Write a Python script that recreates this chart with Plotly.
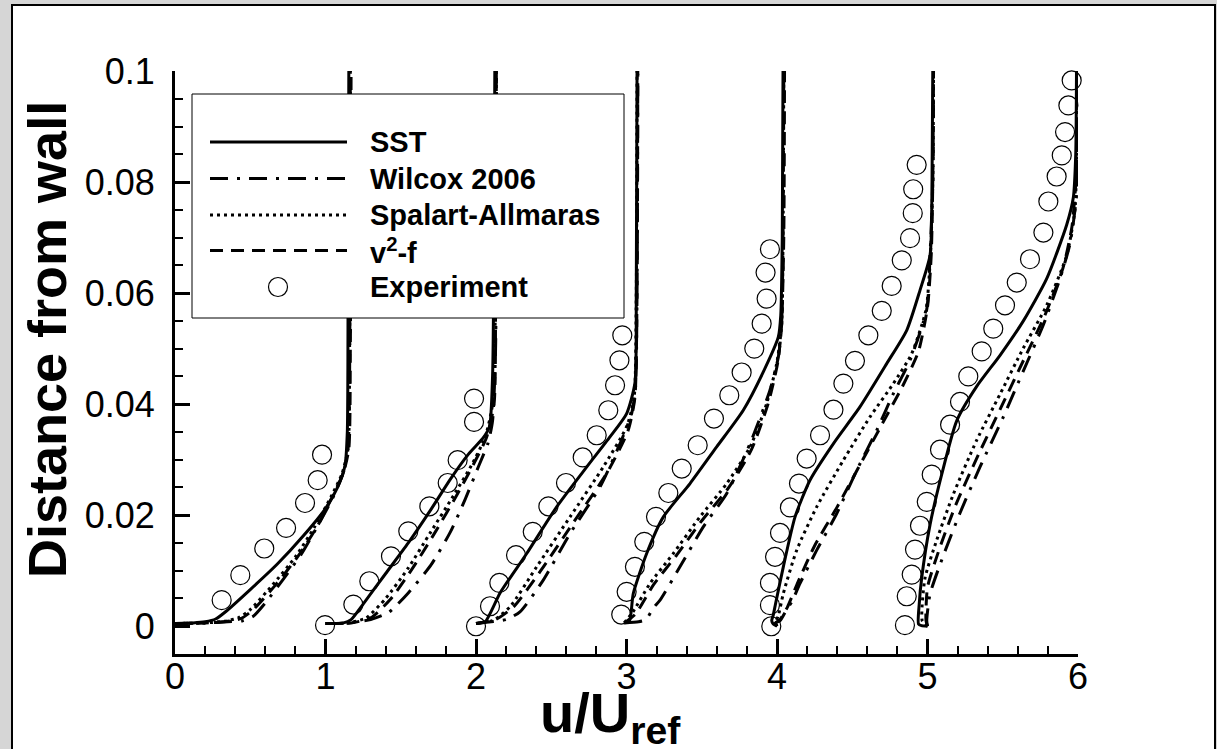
import plotly.graph_objects as go

# ---------------- data (values as read on the u/U_ref axis) ----------------
# six measurement stations, each list entry is one station
sst_x = [
    [0.00, 0.12, 0.20, 0.27, 0.34, 0.50, 0.68, 0.85, 1.00, 1.08, 1.13, 1.145, 1.15, 1.155],
    [1.00, 1.12, 1.17, 1.25, 1.40, 1.55, 1.70, 1.83, 1.95, 2.05, 2.09, 2.11, 2.12, 2.125],
    [2.00, 2.06, 2.16, 2.337, 2.536, 2.736, 2.890, 3.001, 3.056, 3.065, 3.07],
    [2.985, 3.02, 3.045, 3.134, 3.245, 3.422, 3.599, 3.776, 3.909, 4.009, 4.025, 4.035, 4.04],
    [4.00, 3.975, 3.965, 3.975, 3.99, 4.042, 4.120, 4.219, 4.375, 4.551, 4.729, 4.862, 4.950, 5.017, 5.03, 5.035],
    [5.00, 4.96, 4.94, 4.945, 4.961, 5.017, 5.094, 5.194, 5.327, 5.482, 5.637, 5.792, 5.925, 5.969, 5.985, 5.99],
]
sst_y = [
    [0.0005, 0.0006, 0.0008, 0.0013, 0.0027, 0.0066, 0.0112, 0.0162, 0.0212, 0.0250, 0.0290, 0.0350, 0.0600, 0.1000],
    [0.0005, 0.0006, 0.0012, 0.0040, 0.0095, 0.0150, 0.0210, 0.0265, 0.0310, 0.0340, 0.0360, 0.0450, 0.0700, 0.1000],
    [0.0005, 0.0008, 0.0060, 0.0131, 0.0215, 0.0287, 0.0341, 0.0383, 0.0438, 0.0600, 0.1000],
    [0.0006, 0.0010, 0.0059, 0.0131, 0.0197, 0.0257, 0.0323, 0.0389, 0.0458, 0.0521, 0.0560, 0.0700, 0.1000],
    [0.0000, 0.0004, 0.0010, 0.0020, 0.0040, 0.0107, 0.0197, 0.0263, 0.0329, 0.0395, 0.0473, 0.0533, 0.0605, 0.0668, 0.0800, 0.1000],
    [0.0000, 0.0001, 0.0004, 0.0040, 0.0086, 0.0183, 0.0273, 0.0370, 0.0432, 0.0488, 0.0550, 0.0626, 0.0723, 0.0772, 0.0850, 0.1000],
]

wilcox_x = [
    [0.00, 0.20, 0.35, 0.45, 0.52, 0.60, 0.72, 0.84, 0.95, 1.05, 1.12, 1.15, 1.16, 1.165],
    [1.00, 1.15, 1.30, 1.42, 1.55, 1.70, 1.83, 1.93, 2.02, 2.08, 2.11, 2.13, 2.135],
    [2.00, 2.10, 2.20, 2.292, 2.447, 2.625, 2.824, 2.957, 3.034, 3.06, 3.07, 3.075],
    [2.985, 3.08, 3.13, 3.176, 3.223, 3.355, 3.510, 3.666, 3.821, 3.953, 4.009, 4.03, 4.04, 4.045],
    [4.00, 3.99, 4.02, 4.064, 4.10, 4.153, 4.264, 4.397, 4.530, 4.663, 4.773, 4.884, 4.995, 5.017, 5.035, 5.04],
    [5.00, 4.995, 5.017, 5.105, 5.216, 5.349, 5.504, 5.637, 5.770, 5.880, 5.947, 5.991, 5.995],
]
wilcox_y = [
    [0.0005, 0.0006, 0.0008, 0.0010, 0.0018, 0.0042, 0.0085, 0.0130, 0.0182, 0.0232, 0.0278, 0.0320, 0.0450, 0.1000],
    [0.0005, 0.0006, 0.0012, 0.0025, 0.0060, 0.0110, 0.0170, 0.0230, 0.0290, 0.0330, 0.0370, 0.0500, 0.1000],
    [0.0005, 0.0008, 0.0012, 0.0026, 0.0083, 0.0167, 0.0251, 0.0329, 0.0383, 0.0430, 0.0600, 0.1000],
    [0.0006, 0.0008, 0.0012, 0.0032, 0.0047, 0.0107, 0.0179, 0.0239, 0.0329, 0.0425, 0.0485, 0.0540, 0.0700, 0.1000],
    [0.0000, 0.0006, 0.0010, 0.0030, 0.0045, 0.0077, 0.0137, 0.0203, 0.0281, 0.0353, 0.0419, 0.0479, 0.0571, 0.0670, 0.0800, 0.1000],
    [0.0000, 0.0010, 0.0058, 0.0127, 0.0204, 0.0287, 0.0377, 0.0460, 0.0543, 0.0626, 0.0689, 0.0779, 0.1000],
]

sa_x = [
    [0.00, 0.20, 0.33, 0.42, 0.50, 0.65, 0.80, 0.93, 1.04, 1.11, 1.15, 1.16, 1.165],
    [1.00, 1.15, 1.27, 1.40, 1.55, 1.70, 1.85, 1.97, 2.06, 2.11, 2.13, 2.135],
    [2.00, 2.11, 2.226, 2.403, 2.625, 2.846, 3.00, 3.05, 3.065, 3.07],
    [2.985, 3.043, 3.156, 3.311, 3.488, 3.666, 3.821, 3.93, 3.998, 4.03, 4.04, 4.045],
    [4.00, 3.99, 4.01, 4.042, 4.131, 4.264, 4.441, 4.618, 4.773, 4.895, 4.99, 5.02, 5.035, 5.04],
    [5.00, 4.965, 4.983, 5.061, 5.172, 5.327, 5.482, 5.637, 5.792, 5.925, 5.980, 5.99, 5.995],
]
sa_y = [
    [0.0005, 0.0006, 0.0009, 0.0015, 0.0030, 0.0075, 0.0125, 0.0180, 0.0235, 0.0275, 0.0320, 0.0500, 0.1000],
    [0.0005, 0.0006, 0.0015, 0.0050, 0.0105, 0.0170, 0.0235, 0.0290, 0.0340, 0.0400, 0.0600, 0.1000],
    [0.0005, 0.0010, 0.0035, 0.0107, 0.0197, 0.0287, 0.0359, 0.0410, 0.0600, 0.1000],
    [0.0006, 0.0026, 0.0077, 0.0131, 0.0197, 0.0257, 0.0323, 0.0400, 0.0473, 0.0540, 0.0700, 0.1000],
    [0.0000, 0.0006, 0.0020, 0.0059, 0.0137, 0.0215, 0.0299, 0.0377, 0.0437, 0.0491, 0.0570, 0.0670, 0.0800, 0.1000],
    [0.0000, 0.0010, 0.0086, 0.0155, 0.0238, 0.0335, 0.0418, 0.0501, 0.0578, 0.0668, 0.0751, 0.0850, 0.1000],
]

v2f_x = [
    [0.00, 0.20, 0.35, 0.44, 0.52, 0.67, 0.82, 0.95, 1.05, 1.12, 1.155, 1.165, 1.17],
    [1.00, 1.17, 1.30, 1.43, 1.58, 1.73, 1.87, 1.98, 2.07, 2.12, 2.13, 2.135],
    [2.00, 2.13, 2.25, 2.43, 2.65, 2.87, 3.01, 3.055, 3.07, 3.075],
    [2.985, 3.06, 3.18, 3.33, 3.50, 3.68, 3.83, 3.94, 4.005, 4.03, 4.045, 4.05],
    [4.00, 3.99, 4.02, 4.07, 4.14, 4.25, 4.40, 4.55, 4.70, 4.83, 4.94, 5.00, 5.025, 5.035, 5.04],
    [5.00, 4.99, 5.00, 5.08, 5.19, 5.34, 5.49, 5.64, 5.78, 5.90, 5.96, 5.99, 5.995],
]
v2f_y = [
    [0.0005, 0.0006, 0.0009, 0.0014, 0.0030, 0.0075, 0.0127, 0.0182, 0.0236, 0.0277, 0.0320, 0.0500, 0.1000],
    [0.0005, 0.0006, 0.0015, 0.0048, 0.0105, 0.0170, 0.0235, 0.0290, 0.0340, 0.0400, 0.0600, 0.1000],
    [0.0005, 0.0012, 0.0035, 0.0100, 0.0188, 0.0276, 0.0352, 0.0410, 0.0600, 0.1000],
    [0.0006, 0.0022, 0.0075, 0.0127, 0.0190, 0.0250, 0.0318, 0.0400, 0.0475, 0.0540, 0.0700, 0.1000],
    [0.0000, 0.0006, 0.0012, 0.0035, 0.0080, 0.0145, 0.0215, 0.0290, 0.0365, 0.0430, 0.0495, 0.0575, 0.0670, 0.0800, 0.1000],
    [0.0000, 0.0010, 0.0070, 0.0140, 0.0220, 0.0310, 0.0395, 0.0480, 0.0560, 0.0645, 0.0720, 0.0820, 0.1000],
]

exp_x = [
    [0.310, 0.434, 0.593, 0.738, 0.864, 0.948, 0.977],
    [0.997, 1.185, 1.291, 1.435, 1.550, 1.690, 1.812, 1.878, 1.987, 1.987],
    [2.000, 2.093, 2.155, 2.266, 2.377, 2.481, 2.598, 2.709, 2.802, 2.879, 2.924, 2.953, 2.972],
    [2.965, 3.001, 3.056, 3.118, 3.196, 3.278, 3.367, 3.473, 3.581, 3.683, 3.765, 3.849, 3.898, 3.931, 3.924, 3.953],
    [3.962, 3.953, 3.953, 3.987, 4.020, 4.086, 4.146, 4.197, 4.286, 4.375, 4.441, 4.518, 4.607, 4.696, 4.762, 4.829, 4.884, 4.902, 4.905, 4.928],
    [4.850, 4.862, 4.895, 4.917, 4.950, 4.995, 5.028, 5.083, 5.150, 5.216, 5.271, 5.360, 5.437, 5.515, 5.593, 5.681, 5.770, 5.803, 5.858, 5.892, 5.914, 5.936, 5.958],
]
exp_y = [
    [0.0047, 0.0092, 0.0140, 0.0177, 0.0222, 0.0263, 0.0309],
    [0.0002, 0.0039, 0.0081, 0.0126, 0.0171, 0.0216, 0.0258, 0.0299, 0.0368, 0.0410],
    [0.0000, 0.0036, 0.0078, 0.0128, 0.0170, 0.0216, 0.0258, 0.0304, 0.0344, 0.0389, 0.0434, 0.0479, 0.0524],
    [0.0021, 0.0062, 0.0107, 0.0152, 0.0197, 0.0240, 0.0284, 0.0326, 0.0374, 0.0416, 0.0457, 0.0500, 0.0545, 0.0590, 0.0637, 0.0679],
    [0.0000, 0.0038, 0.0078, 0.0125, 0.0168, 0.0214, 0.0257, 0.0302, 0.0344, 0.0390, 0.0437, 0.0478, 0.0524, 0.0568, 0.0613, 0.0659, 0.0699, 0.0744, 0.0787, 0.0831],
    [0.0002, 0.0054, 0.0093, 0.0138, 0.0181, 0.0224, 0.0273, 0.0318, 0.0363, 0.0404, 0.0450, 0.0495, 0.0536, 0.0578, 0.0619, 0.0661, 0.0709, 0.0765, 0.0810, 0.0848, 0.0890, 0.0938, 0.0983],
]

legend_labels = ["SST", "Wilcox 2006", "Spalart-Allmaras", "v<sup>2</sup>-f", "Experiment"]
x_tickvals = [0, 1, 2, 3, 4, 5, 6]
y_tickvals = [0, 0.02, 0.04, 0.06, 0.08, 0.1]
y_ticktext = ["0", "0.02", "0.04", "0.06", "0.08", "0.1"]
x_title = "u/U<sub>ref</sub>"
y_title = "Distance from wall"

# ---------------- styling ----------------
W, H = 1217, 749
L, R, T, B = 175, 139, 71, 95
PW, PH = W - L - R, H - T - B
FONT = "Liberation Sans, Arial, sans-serif"
BG = "#d6d6d6"

def px(xp):
    return (xp - L) / PW

def py(yp):
    return (H - B - yp) / PH

line_styles = [
    dict(color="black", width=3, dash="solid"),
    dict(color="black", width=3, dash="18px,9px,3px,9px"),
    dict(color="black", width=3, dash="3px,4px"),
    dict(color="black", width=3, dash="13px,8px"),
]
model_x = [sst_x, wilcox_x, sa_x, v2f_x]
model_y = [sst_y, wilcox_y, sa_y, v2f_y]

fig = go.Figure()
for m in range(4):
    for s in range(len(model_x[m])):
        fig.add_trace(go.Scatter(
            x=model_x[m][s], y=model_y[m][s], mode="lines",
            line=dict(**line_styles[m], shape="spline", smoothing=0.6),
            showlegend=False, hoverinfo="skip"))
for s in range(len(exp_x)):
    fig.add_trace(go.Scatter(
        x=exp_x[s], y=exp_y[s], mode="markers",
        marker=dict(symbol="circle-open", size=19, color="black", line=dict(width=1.2)),
        showlegend=False, hoverinfo="skip", cliponaxis=False))

shapes = []
# outer frame
shapes.append(dict(type="rect", xref="paper", yref="paper", layer="below",
                   x0=px(12), x1=px(1215), y0=py(765), y1=py(5),
                   fillcolor="white", line=dict(color="black", width=2)))
# custom legend box
shapes.append(dict(type="rect", xref="paper", yref="paper", layer="above",
                   x0=px(192), x1=px(624), y0=py(318), y1=py(94),
                   fillcolor="white", line=dict(color="black", width=1)))
row_y = [142, 178.5, 215, 250.5, 287]
for i in range(4):
    shapes.append(dict(type="line", xref="paper", yref="paper", layer="above",
                       x0=px(210), x1=px(347), y0=py(row_y[i]), y1=py(row_y[i]),
                       line=line_styles[i]))
shapes.append(dict(type="circle", xref="paper", yref="paper", layer="above",
                   x0=px(268.5), x1=px(287.5), y0=py(296.5), y1=py(277.5),
                   line=dict(color="black", width=1.2), fillcolor="rgba(0,0,0,0)"))

annotations = []
for i, lab in enumerate(legend_labels):
    annotations.append(dict(xref="paper", yref="paper", x=px(368), y=py(row_y[i]),
                            xanchor="left", yanchor="middle", showarrow=False,
                            text="<b>" + lab + "</b>",
                            font=dict(family=FONT, size=29, color="black")))
annotations.append(dict(xref="paper", yref="paper", x=px(610), y=py(716),
                        xanchor="center", yanchor="middle", showarrow=False,
                        text="<b>" + x_title + "</b>",
                        font=dict(family=FONT, size=56, color="black")))
annotations.append(dict(xref="paper", yref="paper", x=px(47), y=py(340),
                        xanchor="center", yanchor="middle", showarrow=False,
                        textangle=-90, text="<b>" + y_title + "</b>",
                        font=dict(family=FONT, size=54, color="black")))

axis_common = dict(showgrid=False, zeroline=False, showline=True, linecolor="black",
                   linewidth=3, ticks="inside", ticklen=15, tickwidth=3, tickcolor="black",
                   tickfont=dict(family=FONT, size=36, color="black"), mirror=False)

fig.update_layout(
    width=W, height=H,
    margin=dict(l=L, r=R, t=T, b=B, pad=0),
    paper_bgcolor=BG, plot_bgcolor="white",
    shapes=shapes, annotations=annotations, showlegend=False,
    xaxis=dict(range=[0, 6], tickvals=x_tickvals, ticktext=[str(v) for v in x_tickvals],
               minor=dict(ticks="inside", ticklen=8, tickwidth=2, tickcolor="black",
                          dtick=0.2, tick0=0),
               ticklabelstandoff=-11, **axis_common),
    yaxis=dict(range=[-0.005, 0.1], tickvals=y_tickvals, ticktext=y_ticktext,
               minor=dict(ticks="inside", ticklen=8, tickwidth=2, tickcolor="black",
                          dtick=0.005, tick0=0),
               ticklabelstandoff=10, **axis_common),
)

fig.write_html("out.html",
               config={"displayModeBar": False},
               post_script="document.body.style.margin='0';document.body.style.padding='0';"
                           "document.body.style.background='" + BG + "';"
                           "document.documentElement.style.overflow='hidden';")
